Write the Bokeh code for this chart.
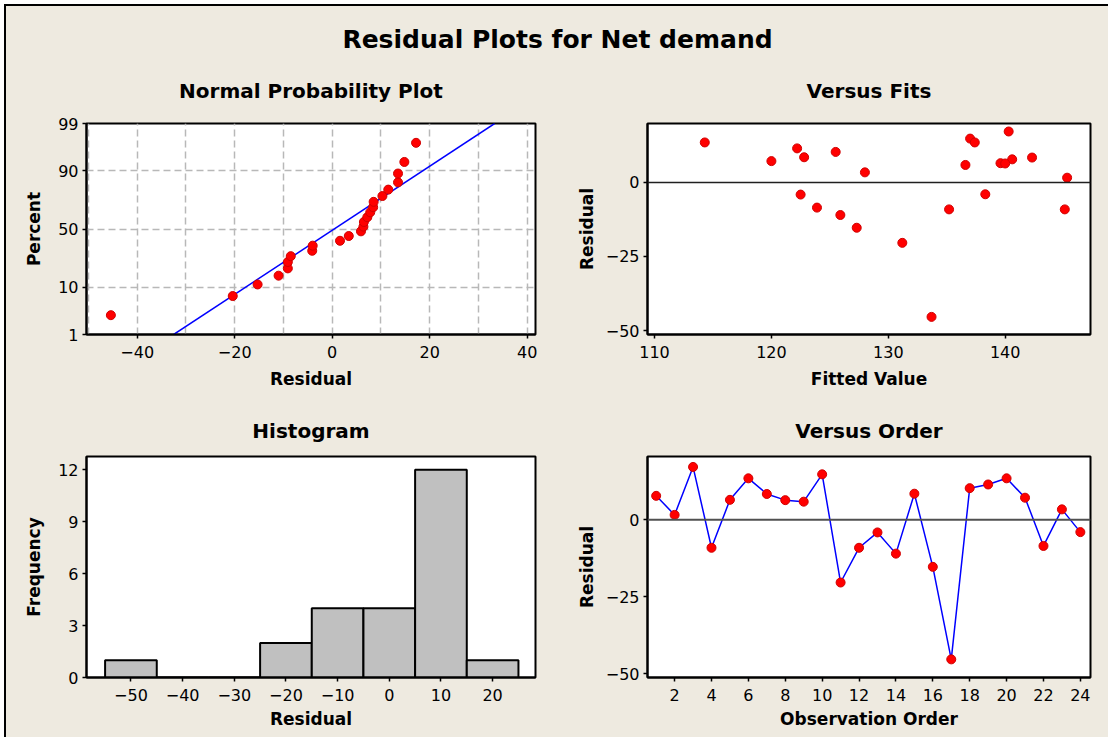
from statistics import NormalDist
import numpy as np
from bokeh.plotting import figure
from bokeh.layouts import column, row
from bokeh.models import Range1d, FixedTicker, Span, Label
from bokeh.embed import file_html
from bokeh.resources import INLINE

# ---------------- data ----------------
observation_order = list(range(1, 25))
residuals = [7.8, 1.6, 17.2, -9.1, 6.5, 13.5, 8.4, 6.4, 5.9, 14.8, -20.4, -9.1,
             -4.1, -11.0, 8.5, -15.3, -45.4, 10.3, 11.5, 13.5, 7.2, -8.5, 3.4, -4.0]
fitted_values = [140.6, 145.3, 140.3, 135.2, 139.6, 114.3, 142.3, 140.0, 136.6, 137.0,
                 131.2, 145.1, 122.5, 125.9, 122.8, 127.3, 133.7, 125.5, 122.2, 137.4,
                 120.0, 123.9, 128.0, 138.3]
hist_bin_edges = [-55, -45, -35, -25, -15, -5, 5, 15, 25]
percent_ticks = [1, 10, 50, 90, 99]
percent_grid = [10, 50, 90]
npp_x_ticks = [-40, -20, 0, 20, 40]
npp_x_grid = [-50, -40, -30, -20, -10, 0, 10, 20, 30, 40]
fits_x_ticks = [110, 120, 130, 140]
resid_y_ticks = [-50, -25, 0]
hist_x_ticks = [-50, -40, -30, -20, -10, 0, 10, 20]
hist_y_ticks = [0, 3, 6, 9, 12]
order_x_ticks = [2, 4, 6, 8, 10, 12, 14, 16, 18, 20, 22, 24]

BG = "#EEEAE0"
FONT = "DejaVu Sans"
RED = "#FF0000"
BLUE = "#0000FF"

nd = NormalDist()
def z_of(pct):
    return round(nd.inv_cdf(pct / 100.0), 6)

# normal probability plot positions (Minitab median ranks)
n = len(residuals)
sorted_res = sorted(residuals)
npp_y = [nd.inv_cdf((i - 0.3) / (n + 0.4)) for i in range(1, n + 1)]
mu = float(np.mean(residuals))
sd = float(np.std(residuals, ddof=1))
z_lo, z_hi = z_of(1), z_of(99)
line_x = [mu + sd * z_lo, mu + sd * z_hi]
line_y = [z_lo, z_hi]

counts, edges = np.histogram(residuals, bins=hist_bin_edges)


def base_fig(title, xlab, ylab, xr, yr, fw, fh, left, right, top, bottom,
             title_standoff, ylab_standoff, xlab_standoff):
    p = figure(frame_width=fw, frame_height=fh, min_border_left=left, min_border_right=right,
               min_border_top=top, min_border_bottom=bottom, x_range=Range1d(*xr),
               y_range=Range1d(*yr), x_axis_label=xlab, y_axis_label=ylab, title=title,
               toolbar_location=None, output_backend="svg")
    p.background_fill_color = "white"
    p.border_fill_color = BG
    p.outline_line_color = "black"
    p.outline_line_width = 2
    p.title.text_font = FONT
    p.title.text_font_size = "20px"
    p.title.text_font_style = "bold"
    p.title.text_color = "black"
    p.title.align = "center"
    p.title.standoff = title_standoff
    for ax in p.axis:
        ax.axis_line_color = "black"
        ax.axis_line_width = 2
        ax.major_tick_line_color = "black"
        ax.major_tick_line_width = 1.5
        ax.major_tick_out = 4
        ax.major_tick_in = 0
        ax.minor_tick_line_color = None
        ax.major_label_text_font = FONT
        ax.major_label_text_font_size = "16px"
        ax.major_label_text_color = "black"
        ax.axis_label_text_font = FONT
        ax.axis_label_text_font_size = "17px"
        ax.axis_label_text_font_style = "bold"
        ax.axis_label_text_color = "black"
    p.xaxis.major_label_standoff = 7
    p.yaxis.major_label_standoff = 4
    p.xaxis.axis_label_standoff = xlab_standoff
    p.yaxis.axis_label_standoff = ylab_standoff
    p.grid.visible = False
    return p


# ---------------- header ----------------
header = figure(width=1102, height=50, x_range=Range1d(0, 1), y_range=Range1d(0, 1),
                toolbar_location=None, output_backend="svg", min_border=0,
                x_axis_location=None, y_axis_location=None)
header.grid.visible = False
header.outline_line_color = None
header.background_fill_color = BG
header.border_fill_color = BG
header.add_layout(Label(x=0.5, y=0.34, text="Residual Plots for Net demand", text_align="center",
                        text_baseline="middle", text_font=FONT, text_font_size="25px",
                        text_font_style="bold", text_color="black"))

# ---------------- Normal probability plot ----------------
p1 = base_fig("Normal Probability Plot", "Residual", "Percent", (-50.4, 41.7),
              (z_lo - 1e-9, z_hi + 1e-9), 449, 211, 80, 15, 66, 67, 41, 11, 8)
p1.xaxis.ticker = FixedTicker(ticks=npp_x_ticks)
p1.yaxis.ticker = FixedTicker(ticks=[z_of(v) for v in percent_ticks])
p1.yaxis.major_label_overrides = {z_of(v): str(v) for v in percent_ticks}
p1.xgrid.visible = True
p1.ygrid.visible = True
p1.xgrid.ticker = FixedTicker(ticks=npp_x_grid)
p1.ygrid.ticker = FixedTicker(ticks=[z_of(v) for v in percent_grid])
for g in (p1.xgrid, p1.ygrid):
    g.grid_line_color = "#B8B8B8"
    g.grid_line_width = 1.5
    g.grid_line_dash = "7 4"
p1.line(line_x, line_y, line_color=BLUE, line_width=1.5)
p1.scatter(sorted_res, npp_y, size=9, fill_color=RED, line_color="#D00000")

# ---------------- Versus fits ----------------
p2 = base_fig("Versus Fits", "Fitted Value", "Residual", (109.4, 147.3), (-51.35, 19.9),
              443, 211, 97, 16, 66, 67, 41, 6, 8)
p2.xaxis.ticker = FixedTicker(ticks=fits_x_ticks)
p2.yaxis.ticker = FixedTicker(ticks=resid_y_ticks)
p2.add_layout(Span(location=0, dimension="width", line_color="#202020", line_width=1.5))
p2.scatter(fitted_values, residuals, size=9, fill_color=RED, line_color="#D00000")

# ---------------- Histogram ----------------
p3 = base_fig("Histogram", "Residual", "Frequency", (-58.6, 28.3), (0, 12.77),
              449, 221, 80, 15, 55, 60, 27, 11, 5)
p3.xaxis.ticker = FixedTicker(ticks=hist_x_ticks)
p3.yaxis.ticker = FixedTicker(ticks=hist_y_ticks)
p3.quad(left=edges[:-1], right=edges[1:], bottom=0, top=counts, fill_color="#C0C0C0",
        line_color="black", line_width=2)

# ---------------- Versus order ----------------
p4 = base_fig("Versus Order", "Observation Order", "Residual", (0.53, 24.55), (-51.3, 20.6),
              443, 221, 97, 16, 55, 60, 27, 6, 5)
p4.xaxis.ticker = FixedTicker(ticks=order_x_ticks)
p4.yaxis.ticker = FixedTicker(ticks=resid_y_ticks)
p4.add_layout(Span(location=0, dimension="width", line_color="#505050", line_width=2))
p4.line(observation_order, residuals, line_color=BLUE, line_width=1.5)
p4.scatter(observation_order, residuals, size=9, fill_color=RED, line_color="#D00000")

layout = column(header, row(p1, p2), row(p3, p4),
                styles={"background-color": BG, "margin-left": "4px", "margin-top": "4px",
                        "border-left": "2px solid black", "border-top": "2px solid black"})
open("out.html", "w").write(file_html(layout, INLINE))
